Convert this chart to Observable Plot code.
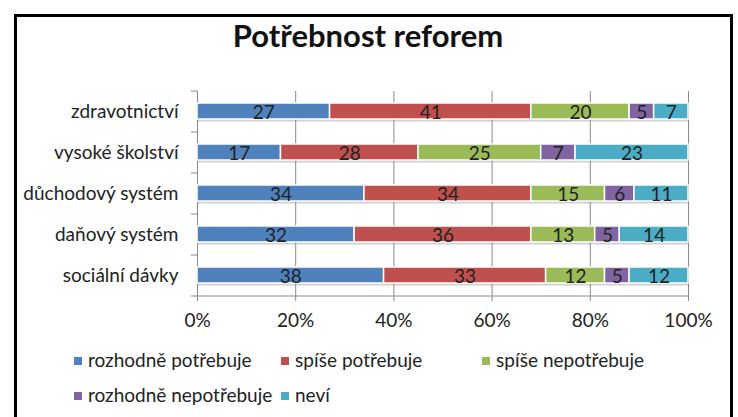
<!DOCTYPE html>
<html>
<head>
<meta charset="utf-8">
<script src="https://cdn.jsdelivr.net/npm/d3@7"></script>
<script src="https://cdn.jsdelivr.net/npm/@observablehq/plot@0.6"></script>
<style>
  html, body { margin: 0; padding: 0; background: #fff; overflow: hidden; }
  #wrap { position: relative; width: 738px; height: 417px; overflow: hidden; font-family: Lato, "Open Sans", sans-serif; color: #222; }
  #border { position: absolute; left: 14px; top: 14px; width: 713px; height: 440px; border: 3px solid #000; }
  #title { position: absolute; left: 0; width: 736px; top: 20px; text-align: center; font-size: 31px; font-weight: 700; line-height: 1; color: #111; }
  #chart { position: absolute; left: 0; top: 0; }
  .leg { position: absolute; font-size: 19px; line-height: 1; white-space: nowrap; }
  .sw { position: absolute; width: 8px; height: 8px; }
</style>
</head>
<body>
<div id="wrap">
  <div id="border"></div>
  <div id="title">Potřebnost reforem</div>
  <div id="chart"></div>
  <div id="legend"></div>
</div>
<script>
const categories = ["zdravotnictví", "vysoké školství", "důchodový systém", "daňový systém", "sociální dávky"];
const seriesNames = ["rozhodně potřebuje", "spíše potřebuje", "spíše nepotřebuje", "rozhodně nepotřebuje", "neví"];
const rozhodnePotrebuje = [27, 17, 34, 32, 38];
const spisePotrebuje = [41, 28, 34, 36, 33];
const spiseNepotrebuje = [20, 25, 15, 13, 12];
const rozhodneNepotrebuje = [5, 7, 6, 5, 5];
const nevi = [7, 23, 11, 14, 12];
const xTicks = [0, 20, 40, 60, 80, 100];
const colors = ["#4F81BD", "#C0504D", "#9BBB59", "#8064A2", "#4BACC6"];

const seriesValues = [rozhodnePotrebuje, spisePotrebuje, spiseNepotrebuje, rozhodneNepotrebuje, nevi];
const data = [];
seriesNames.forEach((s, si) => {
  categories.forEach((c, ci) => data.push({cat: c, series: s, value: seriesValues[si][ci]}));
});

const W = 738, H = 345, mT = 91, mB = 49, mL = 197, mR = 50;
const step = (H - mT - mB) / categories.length;
const axisGray = "#8a8a8a";

const chart = Plot.plot({
  width: W, height: H,
  marginTop: mT, marginBottom: mB, marginLeft: mL, marginRight: mR,
  style: {fontFamily: "Lato, 'Open Sans', sans-serif", fontSize: "19px", color: "#222", background: "transparent"},
  x: {domain: [0, 100], label: null},
  y: {domain: categories, paddingInner: 0.6, paddingOuter: 0.3, label: null},
  color: {domain: seriesNames, range: colors},
  marks: [
    Plot.gridX(xTicks.slice(1), {stroke: axisGray, strokeOpacity: 1}),
    Plot.axisX(xTicks, {tickSize: 5, tickPadding: 12, stroke: axisGray, fill: "#222", tickFormat: d => d + "%", fontSize: 19, label: null}),
    Plot.axisY({tickSize: 0, tickPadding: 19, fill: "#222", fontSize: 19, label: null}),
    Plot.ruleX([0], {stroke: axisGray}),
    Plot.ruleY(categories, {y: d => d, dy: -step / 2, x1: -1.25, x2: 0, stroke: axisGray}),
    Plot.ruleY(categories.slice(-1), {y: d => d, dy: step / 2, x1: -1.25, x2: 100, stroke: axisGray}),
    Plot.barX(categories, {y: d => d, x1: 0, x2: 100, dy: 2.5, dx: 1, fill: "#777", fillOpacity: 0.35}),
    Plot.barX(data, Plot.stackX({x: "value", y: "cat", fill: "series", stroke: "white", strokeWidth: 1.5})),
    Plot.text(data, Plot.stackX({x: "value", y: "cat", z: "series", text: d => String(d.value), fill: "#222", fontSize: 19, dy: 1}))
  ]
});
document.getElementById("chart").appendChild(chart);

// legend
const legendPos = [
  {sx: 74, y: 361}, {sx: 281, y: 361}, {sx: 482, y: 361},
  {sx: 74, y: 396}, {sx: 281, y: 396}
];
const leg = document.getElementById("legend");
seriesNames.forEach((s, i) => {
  const p = legendPos[i];
  const sw = document.createElement("div");
  sw.className = "sw";
  sw.style.left = p.sx + "px";
  sw.style.top = (p.y - 4) + "px";
  sw.style.background = colors[i];
  leg.appendChild(sw);
  const t = document.createElement("div");
  t.className = "leg";
  t.style.left = (p.sx + 14) + "px";
  t.style.top = (p.y - 11) + "px";
  t.textContent = s;
  leg.appendChild(t);
});
</script>
</body>
</html>
